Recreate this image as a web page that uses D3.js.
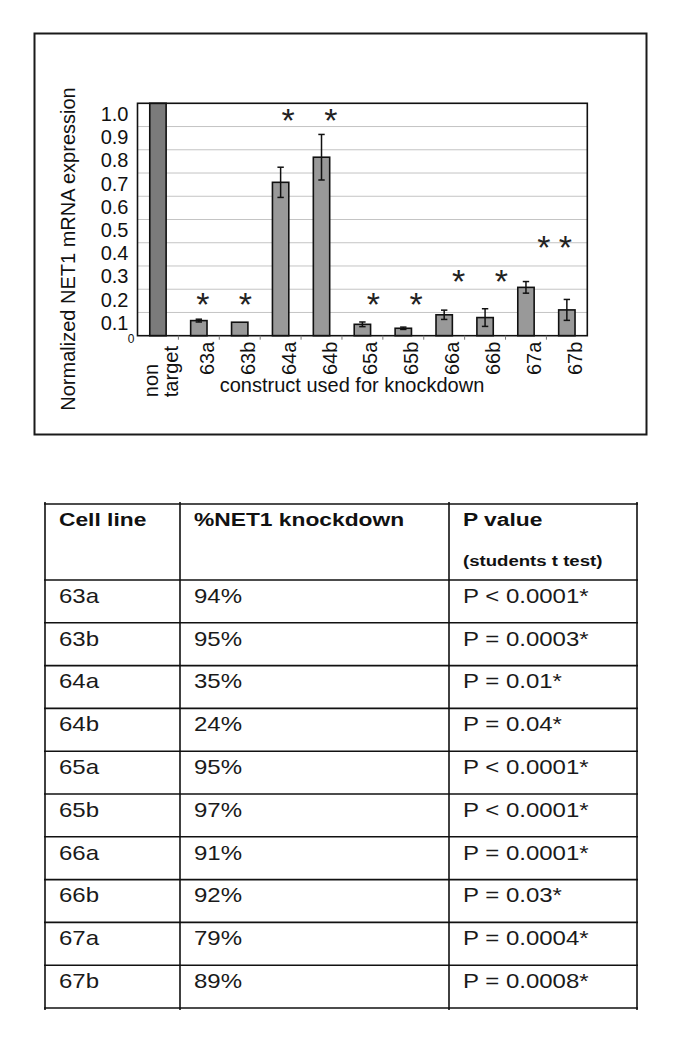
<!DOCTYPE html>
<html>
<head>
<meta charset="utf-8">
<script src="https://cdn.jsdelivr.net/npm/d3@7"></script>
<style>
    body { margin: 0; background: #fff; }
    svg text { font-family: "Liberation Sans", Arial, sans-serif; }
</style>
</head>
<body>
<div id="visualization"></div>
<script>
// Chart data
const categories = ["non target", "63a", "63b", "64a", "64b", "65a", "65b", "66a", "66b", "67a", "67b"];
const expression = [1.0, 0.065, 0.058, 0.66, 0.768, 0.049, 0.032, 0.09, 0.078, 0.208, 0.111];
const errors = [0, 0.006, 0, 0.065, 0.098, 0.01, 0.005, 0.02, 0.038, 0.025, 0.045];
// significance stars: height in data units and slot along the category index
const starLevels = [null, 0.17, 0.17, 0.96, 0.96, 0.17, 0.17, 0.27, 0.27, 0.415, 0.415];
const starSlots = [null, 1, 2, 3, 4, 5, 6, 7, 8, 9, 9.5];
const yTicks = [0.1, 0.2, 0.3, 0.4, 0.5, 0.6, 0.7, 0.8, 0.9, 1.0];

// Table data
const tableHeaders = ["Cell line", "%NET1 knockdown", "P value"];
const pSubHeader = "(students t test)";
const cellLines = ["63a", "63b", "64a", "64b", "65a", "65b", "66a", "66b", "67a", "67b"];
const knockdown = ["94%", "95%", "35%", "24%", "95%", "97%", "91%", "92%", "79%", "89%"];
const pValues = ["P < 0.0001*", "P = 0.0003*", "P = 0.01*", "P = 0.04*", "P < 0.0001*",
                 "P < 0.0001*", "P = 0.0001*", "P = 0.03*", "P = 0.0004*", "P = 0.0008*"];

const width = 685;
const height = 1048;

const svg = d3.select("#visualization")
    .append("svg")
    .attr("width", width)
    .attr("height", height);

function renderBarChart() {
    const plot = { left: 137.5, right: 587.3, top: 103.3, bottom: 335.7 };

    // outer frame
    svg.append("rect")
        .attr("x", 34.5).attr("y", 33.5)
        .attr("width", 612).attr("height", 401)
        .attr("fill", "none")
        .attr("stroke", "#1a1a1a")
        .attr("stroke-width", 2);

    const xScale = d3.scaleBand()
        .domain(categories)
        .range([plot.left, plot.right])
        .paddingInner(0.6)
        .paddingOuter(0.3);

    const yScale = d3.scaleLinear()
        .domain([0, 1.0])
        .range([plot.bottom, plot.top]);

    const center = c => xScale(c) + xScale.bandwidth() / 2;

    // gridlines
    svg.append("g")
        .selectAll("line")
        .data(yTicks)
        .enter()
        .append("line")
        .attr("x1", plot.left).attr("x2", plot.right)
        .attr("y1", d => yScale(d)).attr("y2", d => yScale(d))
        .attr("stroke", "#c4c4c4")
        .attr("stroke-width", 1);

    // Y axis labels (sit a little below their gridline, as in the original)
    const yAxis = svg.append("g")
        .attr("transform", `translate(${plot.left},0)`)
        .call(d3.axisLeft(yScale).tickValues(yTicks).tickSize(0).tickPadding(9).tickFormat(d3.format(".1f")));
    yAxis.select(".domain").remove();
    yAxis.selectAll("text")
        .attr("dy", null)
        .attr("transform", "translate(0,17)")
        .attr("fill", "#111")
        .style("font-size", "20px")
        .style("font-family", "'Liberation Sans', Arial, sans-serif");

    svg.append("text")
        .attr("x", plot.left - 3)
        .attr("y", yScale(0) + 7)
        .attr("text-anchor", "end")
        .attr("fill", "#111")
        .style("font-size", "12px")
        .text("0");

    // bars
    const data = categories.map((c, i) => ({
        cat: c, value: expression[i], err: errors[i], star: starLevels[i], slot: starSlots[i]
    }));

    svg.append("g")
        .selectAll("rect")
        .data(data)
        .enter()
        .append("rect")
        .attr("x", d => xScale(d.cat))
        .attr("width", xScale.bandwidth())
        .attr("y", d => yScale(d.value))
        .attr("height", d => yScale(0) - yScale(d.value))
        .attr("fill", (d, i) => i === 0 ? "#7b7b7b" : "#999999")
        .attr("stroke", "#111")
        .attr("stroke-width", 1.6);

    // error bars
    const errGroup = svg.append("g")
        .attr("stroke", "#111")
        .attr("stroke-width", 1.5);
    const withErr = data.filter(d => d.err > 0);
    errGroup.selectAll(".stem")
        .data(withErr)
        .enter()
        .append("line")
        .attr("x1", d => center(d.cat)).attr("x2", d => center(d.cat))
        .attr("y1", d => yScale(d.value - d.err))
        .attr("y2", d => yScale(d.value + d.err));
    [-1, 1].forEach(sign => {
        errGroup.selectAll(".cap" + sign)
            .data(withErr)
            .enter()
            .append("line")
            .attr("x1", d => center(d.cat) - 3.2).attr("x2", d => center(d.cat) + 3.2)
            .attr("y1", d => yScale(d.value + sign * d.err))
            .attr("y2", d => yScale(d.value + sign * d.err));
    });

    // plot border + bottom axis
    svg.append("rect")
        .attr("x", plot.left).attr("y", plot.top)
        .attr("width", plot.right - plot.left)
        .attr("height", plot.bottom - plot.top)
        .attr("fill", "none")
        .attr("stroke", "#111")
        .attr("stroke-width", 1.6);

    const xAxis = svg.append("g")
        .attr("transform", `translate(0,${plot.bottom})`)
        .call(d3.axisBottom(xScale).tickSize(0).tickPadding(0));
    xAxis.select(".domain").remove();
    xAxis.selectAll("text")
        .attr("y", null)
        .attr("dy", null)
        .attr("fill", "#111")
        .style("font-size", "20px")
        .style("font-family", "'Liberation Sans', Arial, sans-serif")
        .each(function(d) {
            const t = d3.select(this);
            const words = d.split(" ");
            if (words.length > 1) {
                t.text(null)
                    .attr("text-anchor", "start")
                    .attr("transform", "translate(0,61.5) rotate(-90)");
                words.forEach((w, k) => {
                    t.append("tspan").attr("x", 0).attr("y", k * 20).text(w);
                });
            } else {
                t.attr("text-anchor", "end")
                    .attr("transform", "translate(15,6) rotate(-90)");
            }
        });

    // little tick marks at category boundaries
    svg.append("g")
        .selectAll("line")
        .data(categories.slice(1))
        .enter()
        .append("line")
        .attr("x1", d => center(d) - xScale.step() / 2)
        .attr("x2", d => center(d) - xScale.step() / 2)
        .attr("y1", plot.bottom).attr("y2", plot.bottom + 4)
        .attr("stroke", "#777")
        .attr("stroke-width", 1);

    // significance stars
    const starX = d3.scaleLinear()
        .domain([1, 9])
        .range([center("63a") + 4, center("67a") + 18]);
    const starSize = 34;
    svg.append("g")
        .selectAll("text")
        .data(data.filter(d => d.star !== null))
        .enter()
        .append("text")
        .attr("x", d => starX(d.slot))
        .attr("y", d => yScale(d.star) + starSize * 0.58)
        .attr("text-anchor", "middle")
        .attr("fill", "#222")
        .style("font-size", starSize + "px")
        .text("*");

    // axis titles
    svg.append("text")
        .attr("transform", "translate(75,249) rotate(-90)")
        .attr("text-anchor", "middle")
        .attr("fill", "#111")
        .style("font-size", "20px")
        .text("Normalized NET1 mRNA expression");

    svg.append("text")
        .attr("x", 352)
        .attr("y", 392)
        .attr("text-anchor", "middle")
        .attr("fill", "#111")
        .style("font-size", "20px")
        .text("construct used for knockdown");
}

function renderTable() {
    const colX = [45, 180, 449, 637];
    const top = 504;
    const headerBottom = 580;
    const bottom = 1008;
    const stretch = "scale(1.2,1)";

    const rowScale = d3.scaleBand()
        .domain(cellLines)
        .range([headerBottom, bottom]);

    const g = svg.append("g");
    const lineColor = "#111";

    // horizontal rules
    const rules = [top, headerBottom].concat(cellLines.map(c => rowScale(c) + rowScale.bandwidth()));
    g.selectAll(".hrule")
        .data(rules)
        .enter()
        .append("line")
        .attr("x1", colX[0] - 1).attr("x2", colX[3] + 1)
        .attr("y1", d => d).attr("y2", d => d)
        .attr("stroke", lineColor)
        .attr("stroke-width", 1.6);

    // vertical rules
    g.selectAll(".vrule")
        .data(colX)
        .enter()
        .append("line")
        .attr("x1", d => d).attr("x2", d => d)
        .attr("y1", top - 2).attr("y2", bottom + 2)
        .attr("stroke", lineColor)
        .attr("stroke-width", 1.6);

    // header
    g.selectAll(".head")
        .data(tableHeaders)
        .enter()
        .append("text")
        .attr("transform", (d, i) => `translate(${colX[i] + 14},526) ${stretch}`)
        .attr("fill", "#111")
        .style("font-size", "19px")
        .style("font-weight", "bold")
        .text(d => d);

    g.append("text")
        .attr("transform", `translate(${colX[2] + 14},566) ${stretch}`)
        .attr("fill", "#111")
        .style("font-size", "15.5px")
        .style("font-weight", "bold")
        .text(pSubHeader);

    // body
    const columns = [cellLines, knockdown, pValues];
    columns.forEach((col, ci) => {
        g.selectAll(".col" + ci)
            .data(col)
            .enter()
            .append("text")
            .attr("transform", (d, ri) => `translate(${colX[ci] + 14},${rowScale(cellLines[ri]) + 22.7}) ${stretch}`)
            .attr("fill", "#1a1a1a")
            .style("font-size", "20px")
            .text(d => d);
    });
}

renderBarChart();
renderTable();
</script>
</body>
</html>
